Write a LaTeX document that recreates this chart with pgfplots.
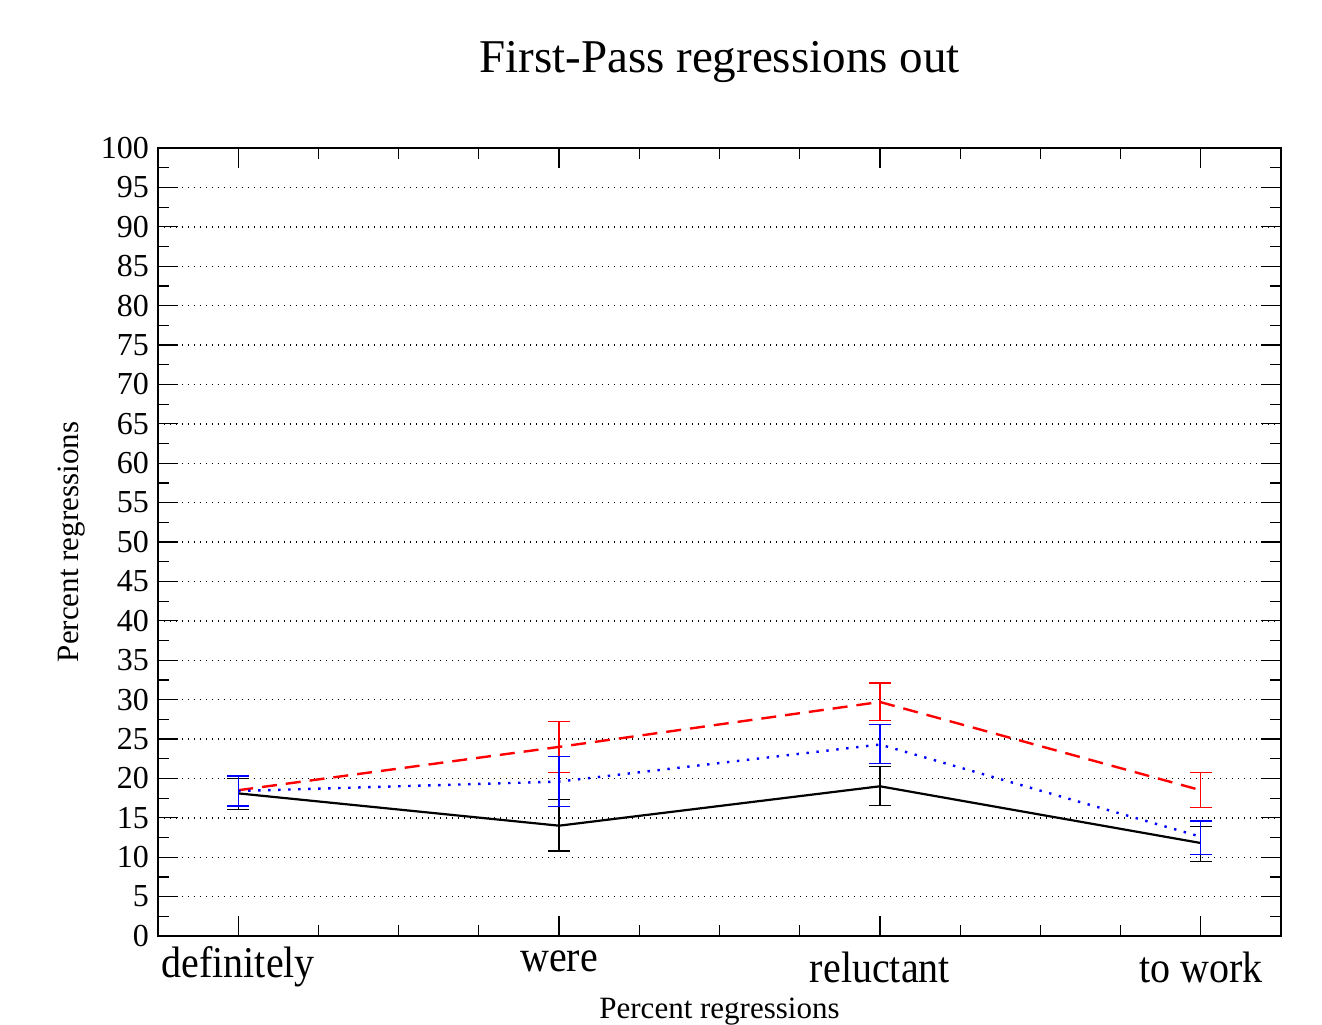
\documentclass[border=0pt]{standalone}
\usepackage{fontspec}
\setmainfont{Liberation Serif}
\usepackage{pgfplots}
\pgfplotsset{compat=1.18}
\begin{document}
\begin{tikzpicture}[x=1pt,y=1pt]
\useasboundingbox (-79,-44) rectangle (582,468);
\begin{axis}[
  at={(0,0)}, anchor=south west,
  scale only axis, width=561.5pt, height=394pt,
  xmin=-0.25, xmax=3.25, ymin=0, ymax=100,
  xtick={0,1,2,3},
  xticklabels={definitely,\raisebox{5pt}{were},reluctant,to work},
  minor x tick num=3,
  ytick={0,5,...,100},
  minor y tick num=1,
  ymajorgrids=true,
  major grid style={black, dash pattern=on 0.6pt off 2.4pt, line width=0.7pt},
  tick style={black, line width=0.6pt},
  xtick pos=both, ytick pos=both,
  major tick length=10pt, minor tick length=5.5pt,
  axis line style={line width=0.8pt},
  /pgf/number format/assume math mode=true,
  yticklabel style={font=\fontsize{16}{16}\selectfont, anchor=east, xshift=-1pt},
  xticklabel style={font=\fontsize{20}{20}\selectfont, anchor=center, yshift=-15.5pt, yscale=1.1},
  title={First-Pass regressions out},
  title style={font=\fontsize{23.5}{24}\selectfont, at={(axis description cs:0.5,1.094)}, anchor=center},
  xlabel={Percent regressions},
  xlabel style={font=\fontsize{15.5}{16}\selectfont, at={(axis description cs:0.5,-0.0965)}, anchor=center},
  ylabel={Percent regressions},
  ylabel style={font=\fontsize{15.5}{16}\selectfont, at={(axis description cs:-0.0766,0.5)}, anchor=center},
  error bars/error bar style={line width=0.6pt, solid},
  error bars/error mark options={rotate=90, mark size=5.5pt, line width=0.6pt, solid},
]
\addplot[black, solid, line width=1.1pt, mark=none,
  error bars/.cd, y dir=both, y explicit]
  table[x=x, y=y, y error plus=ep, y error minus=em] {
x y ep em
0 18.1 1.9 2.0
1 14.0 3.3 3.2
2 19.0 2.5 2.4
3 11.8 2.1 2.3
};
\addplot[red, dashed, dash pattern=on 7.5pt off 4.5pt, line width=1.2pt, mark=none,
  error bars/.cd, y dir=both, y explicit]
  table[x=x, y=y, y error plus=ep, y error minus=em] {
x y ep em
0 18.5 1.8 1.9
1 24.0 3.2 3.3
2 29.7 2.4 2.4
3 18.5 2.2 2.2
};
\addplot[blue, dotted, dash pattern=on 1.2pt off 3.8pt, line width=1.2pt, mark=none,
  error bars/.cd, y dir=both, y explicit]
  table[x=x, y=y, y error plus=ep, y error minus=em] {
x y ep em
0 18.4 1.9 1.9
1 19.6 3.2 3.2
2 24.3 2.5 2.4
3 12.6 2.0 2.3
};
\end{axis}
\end{tikzpicture}
\end{document}
